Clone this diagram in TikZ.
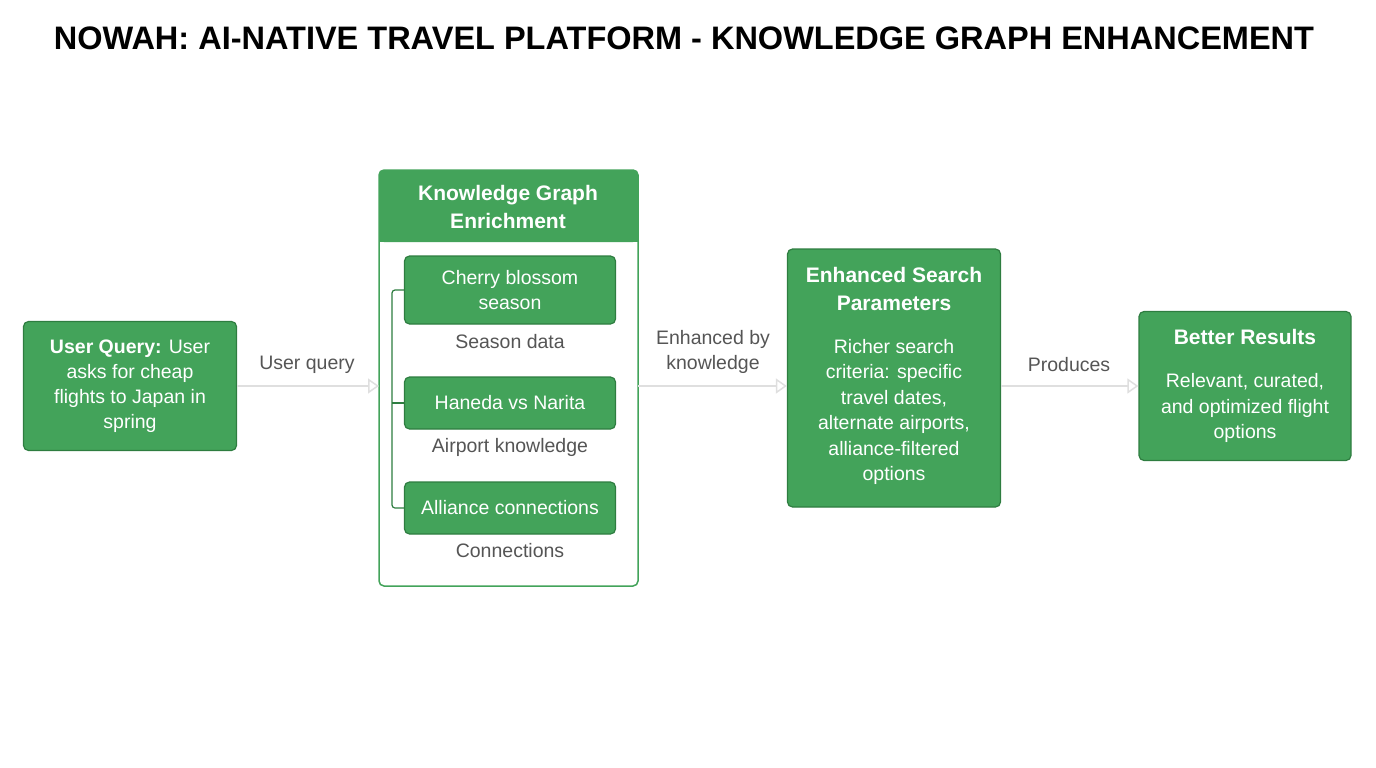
\documentclass[tikz,border=0pt]{standalone}
\usepackage{fontspec}
\setmainfont{Liberation Sans}
\usetikzlibrary{arrows.meta}
\definecolor{kgreen}{HTML}{43A35A}
\definecolor{kdark}{HTML}{2E7D40}
\definecolor{ktext}{HTML}{555555}
\begin{document}
\begin{tikzpicture}[x=1pt,y=-1pt,
   box/.style={draw=kdark, line width=1.2pt, fill=kgreen, rounded corners=5pt, text=white, align=center, font=\fontsize{19.5}{25}\selectfont},
   sub/.style={box, minimum width=211pt, inner sep=2pt},
   note/.style={text=ktext, font=\fontsize{19.5}{25}\selectfont, align=center},
   flow/.style={draw=gray!25, line width=1.5pt, -{Triangle[open, length=11pt, width=15pt]}}]
   \useasboundingbox (0,0) rectangle (1376,768);

\node[font=\fontsize{32.5}{36}\bfseries\selectfont] (title) at (684,38) {NOWAH: AI-NATIVE TRAVEL PLATFORM - KNOWLEDGE GRAPH ENHANCEMENT};

% query
\node[box, minimum width=213pt, minimum height=129pt] (query) at (130,386) {\textbf{User Query:} User\\asks for cheap\\flights to Japan in\\spring};

% knowledge graph frame
\draw[kgreen, line width=1.5pt, rounded corners=5pt, fill=white] (379,170) rectangle (638,586);
\fill[kgreen, rounded corners=5pt] (379,170) rectangle (638,242);
\fill[kgreen] (379,220) rectangle (638,242);
\node[text=white, align=center, font=\fontsize{21}{28}\bfseries\selectfont] (kg) at (508,207) {Knowledge Graph\\Enrichment};
\coordinate (kgin) at (379,386);
\coordinate (kgout) at (638,386);

\node[sub, minimum height=68pt] (cherry) at (510,290) {Cherry blossom\\season};
\node[note] (seasonnote) at (510,342) {Season data};
\node[sub, minimum height=52pt] (haneda) at (510,403) {Haneda vs Narita};
\node[note] (airportnote) at (510,447) {Airport knowledge};
\node[sub, minimum height=52pt] (alliance) at (510,508) {Alliance connections};
\node[note] (connnote) at (510,551) {Connections};

\coordinate (bar) at (392,0);
\draw[kdark, line width=1.2pt, rounded corners=3pt] (cherry.west) -| (bar |- haneda.west) |- (alliance.west);
\draw[kdark, line width=1.2pt] (bar |- haneda.west) -- (haneda.west);

% search parameters
\node[box, minimum width=213pt, minimum height=258pt] (search) at (894,378) {};
\node[text=white, align=center, font=\fontsize{21}{28}\bfseries\selectfont] (searchtitle) at (894,289) {Enhanced Search\\Parameters};
\node[text=white, align=center, font=\fontsize{19.5}{25.5}\selectfont] (searchbody) at (894,412) {Richer search\\criteria: specific\\travel dates,\\alternate airports,\\alliance-filtered\\options};

% results
\node[box, minimum width=212pt, minimum height=149pt] (results) at (1245,386) {};
\node[text=white, font=\fontsize{21}{28}\bfseries\selectfont] (resultstitle) at (1245,337) {Better Results};
\node[text=white, align=center, font=\fontsize{19.5}{25.5}\selectfont] (resultsbody) at (1245,408) {Relevant, curated,\\and optimized flight\\options};

% connectors
\draw[flow] (query.east) -- (kgin);
\node[note] (l1) at (307,365) {User query};
\draw[flow] (kgout) -- (search.west |- kgout);
\node[note] (l2) at (713,352) {Enhanced by\\knowledge};
\draw[flow] (search.east |- results.west) -- (results.west);
\node[note] (l3) at (1069,365) {Produces};
\end{tikzpicture}
\end{document}
